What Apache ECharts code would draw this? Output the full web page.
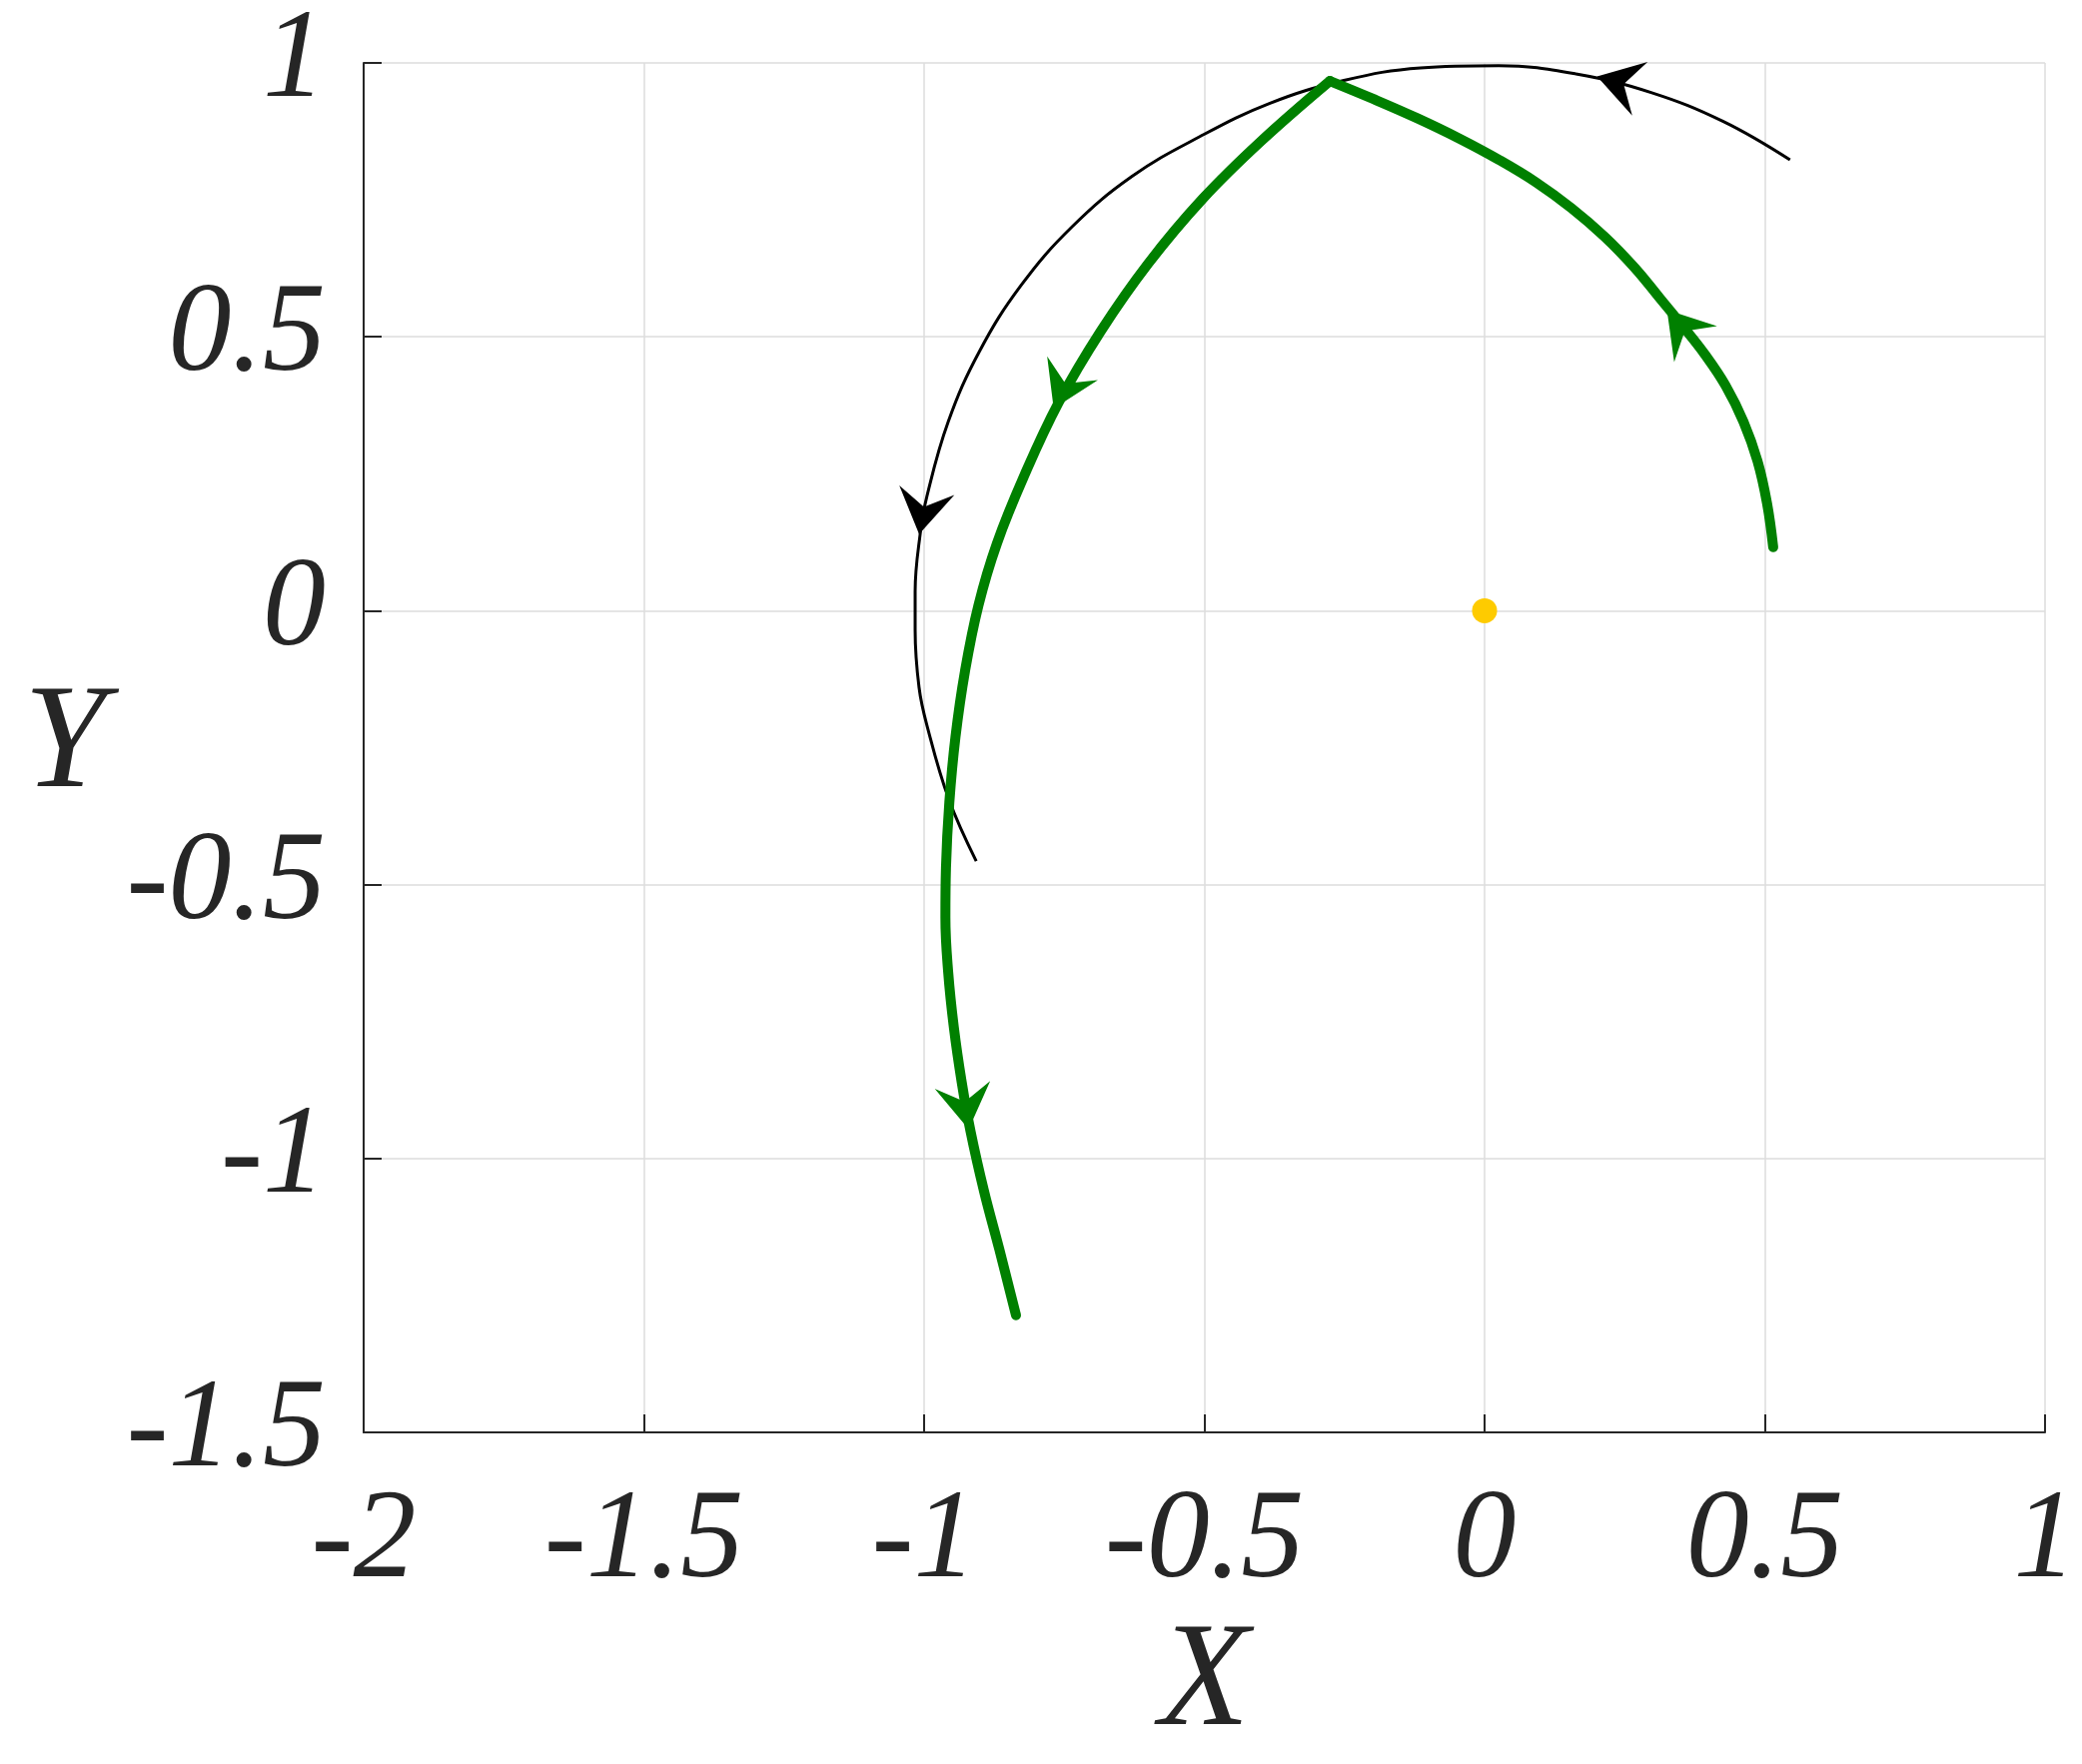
<!DOCTYPE html>
<html>
<head>
<meta charset="utf-8">
<script src="https://cdn.jsdelivr.net/npm/echarts@6/dist/echarts.min.js"></script>
<style>
  html, body { margin: 0; padding: 0; background: #fff; overflow: hidden; }
  #chart { width: 2084px; height: 1766px; }
</style>
</head>
<body>
<div id="chart"></div>
<script>
// axis ticks
const xTicks = [-2, -1.5, -1, -0.5, 0, 0.5, 1];
const yTicks = [-1.5, -1, -0.5, 0, 0.5, 1];

// thin black trajectory
const blackX = [0.545, 0.426, 0.297, 0.163, 0.025, -0.114, -0.251, -0.384, -0.509, -0.629, -0.736, -0.827, -0.901, -0.957, -0.995, -1.007, -1.016, -1.016, -1.009, -0.995, -0.956, -0.907];
const blackY = [0.823, 0.893, 0.946, 0.980, 0.995, 0.991, 0.968, 0.926, 0.865, 0.793, 0.701, 0.594, 0.474, 0.345, 0.209, 0.140, 0.035, -0.035, -0.140, -0.209, -0.344, -0.457];

// green trajectory, first leg (rising to the corner)
const green1X = [0.515, 0.504, 0.487, 0.462, 0.430, 0.393, 0.354, 0.314, 0.268, 0.214, 0.155, 0.092, 0.026, -0.045, -0.120, -0.198, -0.276];
const green1Y = [0.116, 0.196, 0.273, 0.345, 0.411, 0.468, 0.519, 0.569, 0.626, 0.683, 0.735, 0.782, 0.823, 0.862, 0.899, 0.934, 0.967];

// green trajectory, second leg (falling from the corner)
const green2X = [-0.276, -0.398, -0.503, -0.600, -0.685, -0.760, -0.822, -0.870, -0.903, -0.927, -0.944, -0.955, -0.961, -0.962, -0.957, -0.947, -0.933, -0.917, -0.893, -0.866, -0.836];
const green2Y = [0.967, 0.858, 0.752, 0.634, 0.510, 0.380, 0.245, 0.123, 0.010, -0.110, -0.230, -0.350, -0.470, -0.560, -0.660, -0.760, -0.860, -0.951, -1.060, -1.165, -1.286];

// arrow heads: centre and heading (degrees)
const blackArrowX = [0.239, -1.002];
const blackArrowY = [0.964, 0.180];
const blackArrowDir = [164, -100];
const greenArrowX = [0.351, -0.752, -0.926];
const greenArrowY = [0.518, 0.406, -0.906];
const greenArrowDir = [130, -115, -82];

// fixed point
const originX = [0];
const originY = [0];

const zip = (xs, ys) => xs.map((x, i) => [x, ys[i]]);
const zip3 = (xs, ys, ds) => xs.map((x, i) => [x, ys[i], ds[i]]);

const ARROW = "path://M28,0 L56,50 L28,31 L0,50 Z";
const FONT = "Liberation Serif";
const INK = "#262626";
const GREEN = "#008000";

const chart = echarts.init(document.getElementById("chart"));

function arrowSeries(data, color) {
  return {
    type: "scatter",
    data: data,
    symbol: ARROW,
    symbolSize: [56, 50],
    symbolKeepAspect: true,
    symbolRotate: function (val) { return val[2] - 90; },
    itemStyle: { color: color, opacity: 1 },
    z: 5,
    silent: true
  };
}

chart.setOption({
  animation: false,
  backgroundColor: "#fff",
  grid: { left: 364, right: 37, top: 55, bottom: 309, containLabel: false },
  xAxis: {
    type: "value",
    min: xTicks[0],
    max: xTicks[xTicks.length - 1],
    interval: 0.5,
    name: "X",
    nameLocation: "middle",
    nameGap: 177,
    nameTextStyle: { fontFamily: FONT, fontStyle: "italic", fontSize: 148, color: INK },
    axisLine: { show: true, onZero: false, lineStyle: { color: INK, width: 2 } },
    axisTick: { show: true, inside: true, length: 18, lineStyle: { color: INK, width: 2 } },
    axisLabel: {
      margin: 48,
      fontFamily: FONT, fontStyle: "italic", fontSize: 126, color: INK,
      formatter: function (v) { return String(v); }
    },
    splitLine: { show: true, lineStyle: { color: "#dcdcdc", width: 1.5 } }
  },
  yAxis: {
    type: "value",
    min: yTicks[0],
    max: yTicks[yTicks.length - 1],
    interval: 0.5,
    name: "Y",
    nameLocation: "middle",
    nameRotate: 0,
    nameGap: 258,
    nameTextStyle: { fontFamily: FONT, fontStyle: "italic", fontSize: 148, color: INK, padding: [0, 0, 16, 0] },
    axisLine: { show: true, onZero: false, lineStyle: { color: INK, width: 2 } },
    axisTick: { show: true, inside: true, length: 18, lineStyle: { color: INK, width: 2 } },
    axisLabel: {
      margin: 38,
      padding: [20, 0, 0, 0],
      fontFamily: FONT, fontStyle: "italic", fontSize: 126, color: INK,
      formatter: function (v) { return String(v); }
    },
    splitLine: { show: true, lineStyle: { color: "#dcdcdc", width: 1.5 } }
  },
  series: [
    {
      type: "line",
      data: zip(blackX, blackY),
      smooth: 0.4,
      showSymbol: false,
      lineStyle: { color: "#000", width: 3 },
      z: 3
    },
    {
      type: "line",
      data: zip(green1X, green1Y),
      smooth: 0.4,
      showSymbol: false,
      lineStyle: { color: GREEN, width: 10, cap: "round", join: "round" },
      z: 4
    },
    {
      type: "line",
      data: zip(green2X, green2Y),
      smooth: 0.4,
      showSymbol: false,
      lineStyle: { color: GREEN, width: 10, cap: "round", join: "round" },
      z: 4
    },
    arrowSeries(zip3(blackArrowX, blackArrowY, blackArrowDir), "#000"),
    arrowSeries(zip3(greenArrowX, greenArrowY, greenArrowDir), GREEN),
    {
      type: "scatter",
      data: zip(originX, originY),
      symbol: "circle",
      symbolSize: 25,
      itemStyle: { color: "#fecb00", opacity: 1 },
      z: 6
    }
  ]
});
</script>
</body>
</html>
